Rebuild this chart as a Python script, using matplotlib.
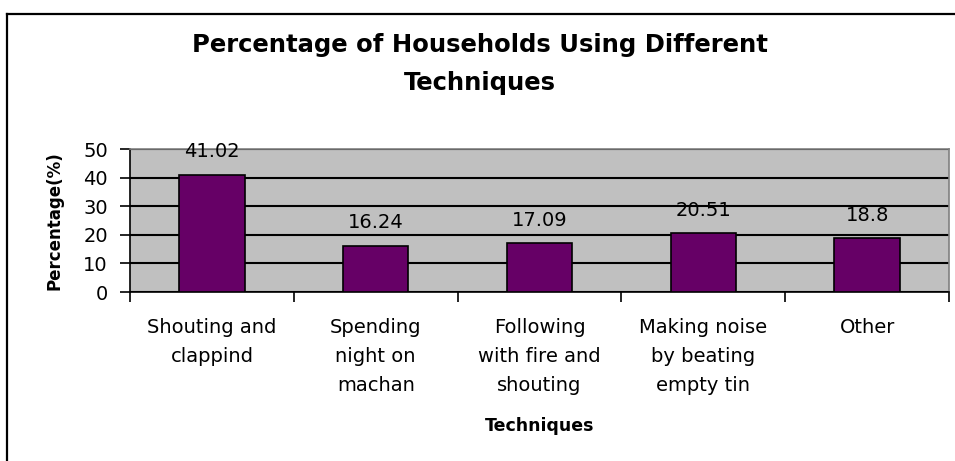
import numpy as np
import matplotlib.pyplot as plt
from matplotlib.lines import Line2D

techniques = ['Shouting and\nclappind', 'Spending\nnight on\nmachan',
              'Following\nwith fire and\nshouting', 'Making noise\nby beating\nempty tin',
              'Other']
percent = [41.02, 16.24, 17.09, 20.51, 18.8]
value_labels = ['41.02', '16.24', '17.09', '20.51', '18.8']
yticks = [0, 10, 20, 30, 40, 50]

W, H = 955, 461
fig = plt.figure(figsize=(W / 100, H / 100), dpi=100)
ax = fig.add_axes([130 / W, 1 - 292 / H, 819 / W, 143 / H])

x = np.arange(len(percent))
ax.set_facecolor('#c0c0c0')
ax.set_axisbelow(True)
ax.yaxis.grid(True, color='black', linewidth=1.5)
ax.bar(x, percent, width=0.4, color='#660066', edgecolor='black', linewidth=1.2, zorder=3)

for xi, v, s in zip(x, percent, value_labels):
    ax.annotate(s, (xi, v), xytext=(0, 23), textcoords='offset pixels',
                ha='center', va='center', fontsize=14, clip_on=False, zorder=4)

ax.set_xlim(-0.5, len(percent) - 0.5)
ax.set_ylim(0, 50)
ax.set_yticks(yticks)
ax.tick_params(axis='y', labelsize=14, length=7, width=1.2, pad=9)

# major ticks between categories, labels on minor ticks at bar centres
ax.set_xticks(np.arange(len(percent) + 1) - 0.5)
ax.set_xticklabels([])
ax.set_xticks(x, minor=True)
ax.set_xticklabels(techniques, minor=True, fontsize=14, linespacing=1.66)
ax.tick_params(axis='x', which='major', length=7, width=1.2)
ax.tick_params(axis='x', which='minor', length=0, pad=19)

for side in ['top', 'right']:
    ax.spines[side].set_color('#808080')
    ax.spines[side].set_linewidth(1.2)
for side in ['left', 'bottom']:
    ax.spines[side].set_color('black')
    ax.spines[side].set_linewidth(1.2)

ax.set_ylabel('Percentage(%)', fontsize=12, fontweight='bold', labelpad=14)
ax.set_xlabel('Techniques', fontsize=12.5, fontweight='bold', labelpad=16)

fig.text(480 / W, 1 - 64 / H, 'Percentage of Households Using Different\nTechniques',
         ha='center', va='center', fontsize=17.5, fontweight='bold', linespacing=1.7)

# outer chart frame (top and left edges)
fig.add_artist(Line2D([7 / W, 1], [1 - 14 / H, 1 - 14 / H], color='black', linewidth=1.6))
fig.add_artist(Line2D([7 / W, 7 / W], [0, 1 - 14 / H], color='black', linewidth=1.6))

fig.savefig('out.png', dpi=100)
